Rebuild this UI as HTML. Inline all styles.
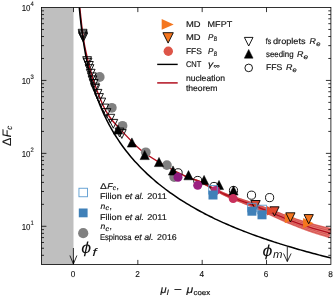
<!DOCTYPE html><html><head><meta charset="utf-8"><style>html,body{margin:0;padding:0;background:#fff;width:336px;height:300px;overflow:hidden;font-family:"Liberation Sans",sans-serif}</style></head><body><svg width="336" height="300" viewBox="0 0 336 300" text-rendering="geometricPrecision" style="position:absolute;left:0;top:0;opacity:0.999;will-change:transform;font-family:'Liberation Sans',sans-serif">
<rect width="336" height="300" fill="#fff"/>
<rect x="41.4" y="7.5" width="32.1" height="257.0" fill="#bfbfbf"/>
<clipPath id="cp"><rect x="41.4" y="7.5" width="289.5" height="257.0"/></clipPath>
<g clip-path="url(#cp)">
<polygon points="183.56,175.51 185.30,176.41 186.90,177.22 188.31,177.91 189.54,178.46 190.62,178.89 191.58,179.24 192.47,179.53 193.31,179.79 194.15,180.04 195.03,180.33 195.98,180.67 197.05,181.10 198.28,181.65 199.71,182.34 201.33,183.17 203.10,184.13 204.99,185.20 206.99,186.34 209.08,187.54 211.22,188.78 213.42,190.04 215.63,191.30 217.86,192.54 220.06,193.74 222.24,194.88 224.36,195.94 226.46,196.93 228.58,197.89 230.71,198.82 232.86,199.72 235.00,200.60 237.12,201.45 239.23,202.29 241.30,203.11 243.34,203.92 245.33,204.71 247.25,205.50 249.12,206.29 250.93,207.06 252.68,207.81 254.38,208.55 256.04,209.27 257.67,209.98 259.27,210.68 260.85,211.38 262.42,212.08 264.00,212.77 265.58,213.48 267.18,214.19 268.81,214.92 270.44,215.65 272.07,216.39 273.70,217.15 275.34,217.91 276.98,218.67 278.63,219.43 280.28,220.20 281.94,220.96 283.60,221.71 285.27,222.45 286.95,223.18 288.62,223.89 290.29,224.59 291.95,225.27 293.60,225.95 295.26,226.61 296.92,227.27 298.58,227.91 300.24,228.55 301.91,229.18 303.58,229.81 305.25,230.42 306.93,231.03 308.63,231.64 310.40,232.26 312.28,232.90 314.24,233.54 316.22,234.19 318.21,234.83 320.16,235.46 322.04,236.05 323.81,236.61 325.43,237.12 326.87,237.57 328.09,237.96 329.06,238.27 331.94,228.13 330.93,227.88 329.66,227.57 328.18,227.21 326.53,226.82 324.74,226.38 322.84,225.92 320.88,225.44 318.89,224.94 316.90,224.44 314.97,223.93 313.11,223.44 311.37,222.96 309.70,222.49 308.02,222.00 306.35,221.51 304.68,221.01 303.02,220.50 301.36,219.99 299.69,219.46 298.03,218.93 296.37,218.39 294.71,217.84 293.04,217.28 291.38,216.71 289.72,216.12 288.06,215.53 286.40,214.91 284.73,214.28 283.05,213.64 281.37,212.99 279.68,212.34 277.99,211.68 276.30,211.02 274.60,210.37 272.89,209.72 271.19,209.08 269.52,208.46 267.87,207.85 266.24,207.25 264.61,206.66 262.99,206.06 261.36,205.47 259.71,204.87 258.03,204.26 256.32,203.65 254.57,203.02 252.76,202.38 250.88,201.71 248.93,201.04 246.92,200.37 244.86,199.70 242.77,199.02 240.65,198.34 238.50,197.65 236.34,196.94 234.18,196.21 232.02,195.47 229.87,194.70 227.74,193.89 225.64,193.06 223.52,192.17 221.33,191.19 219.08,190.14 216.81,189.05 214.53,187.94 212.28,186.82 210.06,185.71 207.90,184.64 205.82,183.62 203.85,182.67 202.00,181.81 200.29,181.06 198.79,180.45 197.48,179.97 196.35,179.60 195.34,179.31 194.42,179.08 193.56,178.88 192.71,178.68 191.82,178.45 190.86,178.18 189.79,177.83 188.55,177.37 187.10,176.78 185.46,176.07 183.67,175.28" fill="#df5a50" fill-opacity="0.8"/>
<polyline points="183.66,175.30 185.44,176.11 187.08,176.83 188.52,177.43 189.76,177.89 190.84,178.26 191.80,178.54 192.68,178.77 193.53,178.98 194.40,179.19 195.31,179.43 196.31,179.72 197.44,180.10 198.73,180.58 200.23,181.20 201.92,181.96 203.76,182.83 205.73,183.79 207.80,184.83 209.95,185.92 212.16,187.04 214.41,188.17 216.68,189.30 218.95,190.41 221.19,191.47 223.38,192.46 225.50,193.38 227.60,194.23 229.73,195.05 231.88,195.84 234.04,196.60 236.20,197.34 238.35,198.07 240.49,198.78 242.61,199.47 244.70,200.16 246.74,200.85 248.75,201.53 250.69,202.22 252.56,202.89 254.36,203.55 256.11,204.19 257.81,204.81 259.48,205.43 261.13,206.04 262.76,206.65 264.37,207.25 265.99,207.86 267.62,208.47 269.26,209.09 270.93,209.73 272.62,210.37 274.32,211.03 276.01,211.70 277.70,212.36 279.39,213.03 281.07,213.70 282.75,214.36 284.42,215.02 286.09,215.66 287.76,216.29 289.42,216.90 291.08,217.50 292.74,218.08 294.41,218.65 296.07,219.22 297.73,219.77 299.39,220.32 301.05,220.86 302.71,221.39 304.38,221.91 306.05,222.42 307.72,222.93 309.39,223.43 311.07,223.92 312.81,224.41 314.67,224.92 316.61,225.44 318.59,225.96 320.59,226.47 322.55,226.97 324.44,227.45 326.23,227.89 327.88,228.30 329.35,228.67 330.61,228.99 331.62,229.25" fill="none" stroke="#c4262c" stroke-opacity="0.65" stroke-width="0.7"/>
<polyline points="183.64,175.35 185.41,176.17 187.04,176.91 188.48,177.53 189.72,178.01 190.79,178.38 191.75,178.68 192.64,178.92 193.49,179.14 194.35,179.36 195.25,179.61 196.24,179.91 197.36,180.30 198.64,180.80 200.12,181.43 201.80,182.21 203.63,183.10 205.58,184.08 207.63,185.13 209.77,186.24 211.97,187.39 214.21,188.55 216.47,189.71 218.73,190.84 220.96,191.93 223.15,192.95 225.27,193.90 227.37,194.77 229.50,195.62 231.64,196.44 233.80,197.23 235.95,198.00 238.10,198.75 240.24,199.49 242.34,200.21 244.42,200.92 246.46,201.63 248.44,202.33 250.37,203.04 252.23,203.73 254.02,204.41 255.76,205.07 257.46,205.71 259.12,206.35 260.75,206.98 262.37,207.60 263.98,208.23 265.59,208.85 267.20,209.49 268.84,210.12 270.50,210.78 272.18,211.44 273.86,212.12 275.54,212.80 277.22,213.49 278.90,214.17 280.57,214.86 282.25,215.54 283.92,216.22 285.59,216.88 287.25,217.53 288.92,218.17 290.58,218.79 292.24,219.40 293.91,219.99 295.57,220.58 297.23,221.16 298.89,221.73 300.55,222.29 302.21,222.84 303.88,223.38 305.55,223.92 307.22,224.44 308.90,224.96 310.58,225.48 312.33,226.00 314.19,226.53 316.13,227.08 318.12,227.62 320.10,228.16 322.06,228.69 323.95,229.19 325.74,229.66 327.38,230.09 328.85,230.47 330.10,230.80 331.10,231.07" fill="none" stroke="#c4262c" stroke-opacity="0.65" stroke-width="0.7"/>
<polyline points="183.60,175.44 185.35,176.30 186.96,177.08 188.39,177.74 189.62,178.26 190.70,178.67 191.66,178.99 192.54,179.26 193.39,179.50 194.24,179.75 195.13,180.02 196.09,180.34 197.18,180.75 198.44,181.28 199.89,181.94 201.54,182.75 203.33,183.68 205.25,184.71 207.27,185.81 209.38,186.97 211.55,188.17 213.76,189.39 216.00,190.60 218.24,191.80 220.45,192.95 222.63,194.04 224.76,195.05 226.85,195.99 228.98,196.90 231.12,197.78 233.27,198.63 235.41,199.46 237.55,200.27 239.67,201.07 241.76,201.84 243.81,202.61 245.82,203.37 247.77,204.12 249.66,204.87 251.49,205.61 253.26,206.33 254.98,207.03 256.66,207.72 258.30,208.40 259.91,209.07 261.51,209.73 263.10,210.40 264.69,211.06 266.29,211.74 267.91,212.42 269.55,213.11 271.20,213.81 272.85,214.53 274.51,215.25 276.16,215.98 277.82,216.71 279.48,217.44 281.14,218.16 282.80,218.89 284.47,219.60 286.14,220.30 287.81,220.99 289.48,221.67 291.14,222.32 292.80,222.97 294.46,223.60 296.12,224.23 297.78,224.85 299.44,225.46 301.10,226.06 302.77,226.65 304.44,227.23 306.11,227.81 307.79,228.38 309.48,228.95 311.24,229.52 313.12,230.12 315.06,230.72 317.05,231.32 319.04,231.92 320.99,232.50 322.87,233.05 324.65,233.57 326.28,234.05 327.73,234.47 328.97,234.83 329.95,235.13" fill="none" stroke="#c4262c" stroke-opacity="0.65" stroke-width="0.7"/>
<polyline points="183.58,175.48 185.32,176.36 186.92,177.16 188.34,177.84 189.57,178.37 190.65,178.80 191.61,179.13 192.50,179.42 193.35,179.67 194.19,179.92 195.07,180.20 196.03,180.53 197.11,180.96 198.34,181.49 199.78,182.17 201.42,183.00 203.20,183.94 205.10,184.99 207.11,186.12 209.20,187.30 211.36,188.52 213.56,189.77 215.79,191.01 218.02,192.23 220.23,193.41 222.40,194.53 224.52,195.56 226.62,196.54 228.75,197.47 230.88,198.38 233.03,199.26 235.17,200.12 237.30,200.96 239.41,201.78 241.49,202.58 243.54,203.37 245.53,204.15 247.47,204.92 249.35,205.69 251.16,206.45 252.92,207.19 254.63,207.91 256.30,208.62 257.93,209.32 259.54,210.01 261.13,210.69 262.71,211.37 264.29,212.06 265.88,212.75 267.49,213.45 269.12,214.16 270.76,214.88 272.40,215.61 274.04,216.35 275.69,217.10 277.34,217.85 278.99,218.60 280.64,219.34 282.30,220.09 283.97,220.82 285.63,221.55 287.31,222.26 288.98,222.96 290.64,223.64 292.31,224.31 293.96,224.96 295.62,225.61 297.28,226.25 298.94,226.88 300.61,227.51 302.27,228.12 303.94,228.73 305.61,229.33 307.29,229.92 308.98,230.51 310.75,231.11 312.63,231.73 314.58,232.36 316.57,232.99 318.56,233.61 320.51,234.22 322.39,234.79 324.16,235.33 325.79,235.83 327.23,236.27 328.46,236.65 329.44,236.95" fill="none" stroke="#c4262c" stroke-opacity="0.65" stroke-width="0.7"/>
<path d="M79.80,7.50C80.23,11.42 81.45,23.92 82.40,31.00C83.35,38.08 83.68,41.83 85.50,50.00C87.32,58.17 90.48,71.00 93.30,80.00C96.12,89.00 99.78,98.00 102.40,104.00C105.02,110.00 106.68,112.50 109.00,116.00C111.32,119.50 111.05,119.37 116.30,125.00C121.55,130.63 132.72,143.22 140.50,149.80C148.28,156.38 155.25,159.97 163.00,164.50C170.75,169.03 180.83,174.13 187.00,177.00C193.17,179.87 193.67,178.78 200.00,181.70C206.33,184.62 216.67,190.78 225.00,194.50C233.33,198.22 242.50,201.08 250.00,204.00C257.50,206.92 263.33,209.28 270.00,212.00C276.67,214.72 283.33,217.75 290.00,220.30C296.67,222.85 303.25,225.15 310.00,227.30C316.75,229.45 327.08,232.22 330.50,233.20" fill="none" stroke="#b2101f" stroke-width="1.4"/>
<path d="M78.33,-4.03C78.43,-2.70 78.75,1.42 78.97,3.93C79.18,6.43 79.40,8.76 79.61,11.00C79.83,13.24 80.04,15.34 80.26,17.37C80.47,19.39 80.68,21.31 80.90,23.16C81.11,25.01 81.33,26.77 81.54,28.47C81.76,30.17 81.97,31.80 82.19,33.38C82.40,34.95 82.61,36.47 82.83,37.94C83.04,39.41 83.26,40.82 83.47,42.19C83.69,43.57 83.90,44.90 84.12,46.19C84.33,47.48 84.55,48.73 84.76,49.95C84.97,51.17 85.19,52.35 85.40,53.51C85.62,54.66 85.83,55.78 86.05,56.88C86.26,57.98 86.48,59.04 86.69,60.09C86.90,61.13 87.12,62.15 87.33,63.14C87.55,64.14 87.76,65.11 87.98,66.06C88.19,67.01 88.41,67.94 88.62,68.86C88.83,69.77 89.05,70.66 89.26,71.54C89.48,72.41 89.69,73.27 89.91,74.11C90.12,74.96 90.34,75.78 90.55,76.59C90.76,77.40 90.98,78.20 91.19,78.98C91.41,79.76 91.62,80.53 91.84,81.29C92.05,82.04 92.27,82.79 92.48,83.52C92.69,84.25 92.91,84.97 93.12,85.67C93.34,86.38 93.55,87.08 93.77,87.76C93.98,88.45 94.20,89.12 94.41,89.79C94.62,90.45 94.84,91.11 95.05,91.75C95.27,92.40 95.48,93.04 95.70,93.66C95.91,94.29 96.13,94.91 96.34,95.52C96.56,96.13 96.77,96.73 96.98,97.33C97.20,97.92 97.41,98.51 97.63,99.09C97.84,99.67 98.06,100.24 98.27,100.81C98.49,101.37 98.70,101.93 98.91,102.48C99.13,103.03 99.34,103.57 99.56,104.11C99.77,104.65 99.99,105.18 100.20,105.71C100.42,106.23 100.63,106.75 100.84,107.27C101.06,107.78 101.27,108.29 101.49,108.79C101.70,109.29 101.92,109.79 102.13,110.28C102.35,110.77 102.56,111.26 102.77,111.74C102.99,112.22 103.20,112.70 103.42,113.17C103.63,113.64 103.85,114.10 104.06,114.57C104.28,115.03 104.49,115.49 104.70,115.94C104.92,116.39 105.13,116.84 105.35,117.28C105.56,117.73 105.78,118.17 105.99,118.60C106.21,119.04 106.42,119.47 106.64,119.90C106.85,120.33 107.06,120.75 107.28,121.17C107.49,121.59 107.71,122.01 107.92,122.42C108.14,122.83 108.35,123.24 108.57,123.64C108.78,124.05 108.99,124.45 109.21,124.85C109.42,125.25 109.64,125.64 109.85,126.03C110.07,126.43 109.85,126.08 110.50,127.20C111.14,128.32 112.64,130.97 113.71,132.75C114.78,134.54 115.86,136.24 116.93,137.90C118.00,139.56 119.07,141.15 120.15,142.70C121.22,144.25 122.29,145.75 123.36,147.20C124.44,148.66 125.51,150.07 126.58,151.44C127.65,152.81 128.73,154.14 129.80,155.44C130.87,156.74 131.94,157.99 133.01,159.23C134.09,160.46 135.16,161.66 136.23,162.83C137.30,164.00 138.38,165.14 139.45,166.26C140.52,167.37 141.59,168.46 142.67,169.53C143.74,170.60 144.81,171.64 145.88,172.66C146.95,173.68 148.03,174.68 149.10,175.66C150.17,176.64 151.24,177.60 152.32,178.54C153.39,179.48 154.46,180.40 155.53,181.31C156.61,182.21 157.68,183.10 158.75,183.97C159.82,184.84 160.90,185.69 161.97,186.53C163.04,187.37 164.11,188.20 165.18,189.01C166.26,189.82 167.33,190.61 168.40,191.40C169.47,192.18 170.55,192.95 171.62,193.70C172.69,194.46 173.76,195.20 174.84,195.94C175.91,196.67 176.98,197.39 178.05,198.10C179.12,198.81 180.20,199.50 181.27,200.19C182.34,200.88 183.41,201.55 184.49,202.22C185.56,202.88 186.63,203.54 187.70,204.18C188.78,204.83 189.85,205.47 190.92,206.09C191.99,206.72 193.07,207.34 194.14,207.95C195.21,208.56 196.28,209.16 197.35,209.75C198.43,210.35 199.50,210.93 200.57,211.51C201.64,212.08 202.72,212.65 203.79,213.21C204.86,213.77 205.93,214.33 207.01,214.87C208.08,215.42 209.15,215.96 210.22,216.49C211.29,217.02 212.37,217.55 213.44,218.06C214.51,218.58 215.58,219.10 216.66,219.60C217.73,220.11 218.80,220.61 219.87,221.10C220.95,221.59 222.02,222.08 223.09,222.56C224.16,223.04 225.24,223.52 226.31,223.99C227.38,224.46 228.45,224.93 229.52,225.38C230.60,225.84 231.67,226.30 232.74,226.75C233.81,227.20 234.89,227.64 235.96,228.08C237.03,228.52 238.10,228.95 239.18,229.38C240.25,229.81 241.32,230.24 242.39,230.66C243.46,231.08 244.54,231.50 245.61,231.91C246.68,232.32 247.75,232.73 248.83,233.13C249.90,233.53 250.97,233.93 252.04,234.33C253.12,234.72 254.19,235.12 255.26,235.50C256.33,235.89 257.41,236.27 258.48,236.65C259.55,237.03 260.62,237.41 261.69,237.78C262.77,238.16 263.84,238.52 264.91,238.89C265.98,239.26 267.06,239.62 268.13,239.98C269.20,240.34 270.27,240.69 271.35,241.05C272.42,241.40 273.49,241.75 274.56,242.09C275.63,242.44 276.71,242.78 277.78,243.12C278.85,243.47 279.92,243.80 281.00,244.14C282.07,244.47 283.14,244.80 284.21,245.13C285.29,245.46 286.36,245.79 287.43,246.11C288.50,246.44 289.58,246.76 290.65,247.08C291.72,247.39 292.79,247.71 293.86,248.02C294.94,248.34 296.01,248.65 297.08,248.96C298.15,249.27 299.23,249.57 300.30,249.88C301.37,250.18 302.44,250.48 303.52,250.78C304.59,251.08 305.66,251.38 306.73,251.67C307.80,251.97 308.88,252.26 309.95,252.55C311.02,252.84 312.09,253.13 313.17,253.42C314.24,253.70 315.31,253.99 316.38,254.27C317.46,254.55 318.53,254.83 319.60,255.11C320.67,255.39 321.75,255.67 322.82,255.94C323.89,256.22 324.96,256.49 326.03,256.76C327.11,257.03 328.18,257.30 329.25,257.57C330.32,257.84 331.93,258.23 332.47,258.37" fill="none" stroke="#000" stroke-width="1.5"/>
<circle cx="99.70" cy="77.00" r="4.9" fill="#808080" stroke="none" stroke-width="0"/>
<circle cx="111.80" cy="107.80" r="4.9" fill="#808080" stroke="none" stroke-width="0"/>
<circle cx="122.50" cy="125.80" r="4.9" fill="#808080" stroke="none" stroke-width="0"/>
<circle cx="145.80" cy="152.30" r="4.9" fill="#808080" stroke="none" stroke-width="0"/>
<circle cx="166.90" cy="165.10" r="4.9" fill="#808080" stroke="none" stroke-width="0"/>
<circle cx="174.20" cy="177.10" r="4.9" fill="#808080" stroke="none" stroke-width="0"/>
<path d="M78.20,29.30L87.00,29.30L82.60,38.10Z" fill="none" stroke="#000" stroke-width="0.9" stroke-linejoin="miter"/>
<path d="M78.40,30.80L87.20,30.80L82.80,39.60Z" fill="none" stroke="#000" stroke-width="0.9" stroke-linejoin="miter"/>
<path d="M78.60,32.10L87.40,32.10L83.00,40.90Z" fill="none" stroke="#000" stroke-width="0.9" stroke-linejoin="miter"/>
<path d="M78.80,33.10L87.60,33.10L83.20,41.90Z" fill="none" stroke="#000" stroke-width="0.9" stroke-linejoin="miter"/>
<path d="M82.70,56.70L91.50,56.70L87.10,65.50Z" fill="none" stroke="#000" stroke-width="0.9" stroke-linejoin="miter"/>
<path d="M83.10,58.30L91.90,58.30L87.50,67.10Z" fill="none" stroke="#000" stroke-width="0.9" stroke-linejoin="miter"/>
<path d="M84.50,61.50L93.30,61.50L88.90,70.30Z" fill="none" stroke="#000" stroke-width="0.9" stroke-linejoin="miter"/>
<path d="M85.10,64.70L93.90,64.70L89.50,73.50Z" fill="none" stroke="#000" stroke-width="0.9" stroke-linejoin="miter"/>
<path d="M86.30,69.30L95.10,69.30L90.70,78.10Z" fill="none" stroke="#000" stroke-width="0.9" stroke-linejoin="miter"/>
<path d="M87.50,72.90L96.30,72.90L91.90,81.70Z" fill="none" stroke="#000" stroke-width="0.9" stroke-linejoin="miter"/>
<path d="M88.10,75.90L96.90,75.90L92.50,84.70Z" fill="none" stroke="#000" stroke-width="0.9" stroke-linejoin="miter"/>
<path d="M89.30,79.50L98.10,79.50L93.70,88.30Z" fill="none" stroke="#000" stroke-width="0.9" stroke-linejoin="miter"/>
<path d="M90.50,83.10L99.30,83.10L94.90,91.90Z" fill="none" stroke="#000" stroke-width="0.9" stroke-linejoin="miter"/>
<path d="M90.90,84.60L99.70,84.60L95.30,93.40Z" fill="none" stroke="#000" stroke-width="0.9" stroke-linejoin="miter"/>
<path d="M93.10,89.40L101.90,89.40L97.50,98.20Z" fill="none" stroke="#000" stroke-width="0.9" stroke-linejoin="miter"/>
<path d="M94.60,93.60L103.40,93.60L99.00,102.40Z" fill="none" stroke="#000" stroke-width="0.9" stroke-linejoin="miter"/>
<path d="M96.90,98.10L105.70,98.10L101.30,106.90Z" fill="none" stroke="#000" stroke-width="0.9" stroke-linejoin="miter"/>
<path d="M99.90,104.10L108.70,104.10L104.30,112.90Z" fill="none" stroke="#000" stroke-width="0.9" stroke-linejoin="miter"/>
<path d="M102.10,108.60L110.90,108.60L106.50,117.40Z" fill="none" stroke="#000" stroke-width="0.9" stroke-linejoin="miter"/>
<path d="M105.90,114.30L114.70,114.30L110.30,123.10Z" fill="none" stroke="#000" stroke-width="0.9" stroke-linejoin="miter"/>
<path d="M108.90,119.40L117.70,119.40L113.30,128.20Z" fill="none" stroke="#000" stroke-width="0.9" stroke-linejoin="miter"/>
<path d="M115.10,128.10L123.90,128.10L119.50,136.90Z" fill="none" stroke="#000" stroke-width="0.9" stroke-linejoin="miter"/>
<path d="M117.40,129.60L126.20,129.60L121.80,138.40Z" fill="none" stroke="#000" stroke-width="0.9" stroke-linejoin="miter"/>
<path d="M113.40,134.10L122.60,134.10L118.00,124.90Z" fill="#000" stroke="#000" stroke-width="0.5" stroke-linejoin="miter"/>
<path d="M127.30,147.10L136.50,147.10L131.90,137.90Z" fill="#000" stroke="#000" stroke-width="0.5" stroke-linejoin="miter"/>
<path d="M140.10,159.60L149.30,159.60L144.70,150.40Z" fill="#000" stroke="#000" stroke-width="0.5" stroke-linejoin="miter"/>
<path d="M154.40,166.60L163.60,166.60L159.00,157.40Z" fill="#000" stroke="#000" stroke-width="0.5" stroke-linejoin="miter"/>
<path d="M168.40,175.10L177.60,175.10L173.00,165.90Z" fill="#000" stroke="#000" stroke-width="0.5" stroke-linejoin="miter"/>
<path d="M183.90,179.80L193.10,179.80L188.50,170.60Z" fill="#000" stroke="#000" stroke-width="0.5" stroke-linejoin="miter"/>
<path d="M199.50,184.60L208.70,184.60L204.10,175.40Z" fill="#000" stroke="#000" stroke-width="0.5" stroke-linejoin="miter"/>
<path d="M214.40,189.60L223.60,189.60L219.00,180.40Z" fill="#000" stroke="#000" stroke-width="0.5" stroke-linejoin="miter"/>
<path d="M228.90,195.10L238.10,195.10L233.50,185.90Z" fill="#000" stroke="#000" stroke-width="0.5" stroke-linejoin="miter"/>
<circle cx="178.10" cy="172.80" r="4.1" fill="none" stroke="#000" stroke-width="0.9"/>
<circle cx="197.70" cy="180.50" r="4.1" fill="none" stroke="#000" stroke-width="0.9"/>
<circle cx="214.00" cy="186.50" r="4.1" fill="none" stroke="#000" stroke-width="0.9"/>
<circle cx="233.50" cy="190.50" r="4.1" fill="none" stroke="#000" stroke-width="0.9"/>
<circle cx="251.50" cy="195.20" r="4.1" fill="none" stroke="#000" stroke-width="0.9"/>
<circle cx="269.60" cy="197.60" r="4.1" fill="none" stroke="#000" stroke-width="0.9"/>
<circle cx="178.00" cy="177.30" r="4.5" fill="#8e1b7e" stroke="none" stroke-width="0"/>
<circle cx="197.70" cy="185.30" r="4.5" fill="#9c2080" stroke="none" stroke-width="0"/>
<circle cx="215.60" cy="190.50" r="4.5" fill="#b72a72" stroke="none" stroke-width="0"/>
<circle cx="233.20" cy="198.60" r="4.5" fill="#c8305c" stroke="none" stroke-width="0"/>
<path d="M250.80,200.50L260.20,200.50L255.50,209.90Z" fill="#d9452f" stroke="#000" stroke-width="0.9" stroke-linejoin="miter"/>
<rect x="208.70" y="185.50" width="8.6" height="8.6" fill="none" stroke="#5b9bd0" stroke-width="0.9"/>
<rect x="247.70" y="203.30" width="8.6" height="8.6" fill="none" stroke="#5b9bd0" stroke-width="0.9"/>
<rect x="257.80" y="205.20" width="8.6" height="8.6" fill="none" stroke="#5b9bd0" stroke-width="0.9"/>
<rect x="208.50" y="190.50" width="9" height="9" fill="#3f80b8" stroke="none" stroke-width="0"/>
<rect x="247.40" y="206.70" width="9" height="9" fill="#3f80b8" stroke="none" stroke-width="0"/>
<rect x="257.50" y="210.30" width="9" height="9" fill="#3f80b8" stroke="none" stroke-width="0"/>
<path d="M269.90,206.80L279.10,206.80L274.50,216.00Z" fill="#e2492f" stroke="#000" stroke-width="0.9" stroke-linejoin="miter"/>
<path d="M266.90,206.10L266.90,215.50L276.30,210.80Z" fill="#e2492f" stroke="none" stroke-width="0"/>
<path d="M284.80,213.30L284.80,223.30L294.80,218.30Z" fill="#f4761f" stroke="none" stroke-width="0"/>
<path d="M285.80,212.80L295.00,212.80L290.40,222.00Z" fill="#f4761f" stroke="#000" stroke-width="0.9" stroke-linejoin="miter"/>
<path d="M303.05,218.05L303.05,228.55L313.55,223.30Z" fill="#f4761f" stroke="none" stroke-width="0"/>
<path d="M304.10,214.60L313.30,214.60L308.70,223.80Z" fill="#f4761f" stroke="#000" stroke-width="0.9" stroke-linejoin="miter"/>
</g>
<rect x="41.4" y="7.5" width="289.5" height="257.0" fill="none" stroke="#000" stroke-width="0.8"/>
<path d="M73.50,264.5v-4.6M73.50,7.5v4.6M137.84,264.5v-4.6M137.84,7.5v4.6M202.18,264.5v-4.6M202.18,7.5v4.6M266.52,264.5v-4.6M266.52,7.5v4.6M41.4,255.31h2.6M330.9,255.31h-2.6M41.4,248.24h2.6M330.9,248.24h-2.6M41.4,242.47h2.6M330.9,242.47h-2.6M41.4,237.59h2.6M330.9,237.59h-2.6M41.4,233.36h2.6M330.9,233.36h-2.6M41.4,229.63h2.6M330.9,229.63h-2.6M41.4,226.29h5M330.9,226.29h-5M41.4,204.34h2.6M330.9,204.34h-2.6M41.4,191.49h2.6M330.9,191.49h-2.6M41.4,182.38h2.6M330.9,182.38h-2.6M41.4,175.31h2.6M330.9,175.31h-2.6M41.4,169.54h2.6M330.9,169.54h-2.6M41.4,164.66h2.6M330.9,164.66h-2.6M41.4,160.43h2.6M330.9,160.43h-2.6M41.4,156.70h2.6M330.9,156.70h-2.6M41.4,153.36h5M330.9,153.36h-5M41.4,131.41h2.6M330.9,131.41h-2.6M41.4,118.56h2.6M330.9,118.56h-2.6M41.4,109.45h2.6M330.9,109.45h-2.6M41.4,102.38h2.6M330.9,102.38h-2.6M41.4,96.61h2.6M330.9,96.61h-2.6M41.4,91.73h2.6M330.9,91.73h-2.6M41.4,87.50h2.6M330.9,87.50h-2.6M41.4,83.77h2.6M330.9,83.77h-2.6M41.4,80.43h5M330.9,80.43h-5M41.4,58.48h2.6M330.9,58.48h-2.6M41.4,45.63h2.6M330.9,45.63h-2.6M41.4,36.52h2.6M330.9,36.52h-2.6M41.4,29.45h2.6M330.9,29.45h-2.6M41.4,23.68h2.6M330.9,23.68h-2.6M41.4,18.80h2.6M330.9,18.80h-2.6M41.4,14.57h2.6M330.9,14.57h-2.6M41.4,10.84h2.6M330.9,10.84h-2.6" stroke="#000" stroke-width="0.8" fill="none"/>
<text x="70.8" y="277.3" font-size="8.6" textLength="4.6" lengthAdjust="spacingAndGlyphs" fill="#111" stroke="#111" stroke-width="0.1">0</text>
<text x="135.14" y="277.3" font-size="8.6" textLength="4.6" lengthAdjust="spacingAndGlyphs" fill="#111" stroke="#111" stroke-width="0.1">2</text>
<text x="199.48" y="277.3" font-size="8.6" textLength="4.6" lengthAdjust="spacingAndGlyphs" fill="#111" stroke="#111" stroke-width="0.1">4</text>
<text x="263.82" y="277.3" font-size="8.6" textLength="4.6" lengthAdjust="spacingAndGlyphs" fill="#111" stroke="#111" stroke-width="0.1">6</text>
<text x="328.16" y="277.3" font-size="8.6" textLength="4.6" lengthAdjust="spacingAndGlyphs" fill="#111" stroke="#111" stroke-width="0.1">8</text>
<text x="21.7" y="229.59" font-size="8.6" textLength="8.8" lengthAdjust="spacingAndGlyphs" fill="#111" stroke="#111" stroke-width="0.1">10</text>
<text x="30.6" y="225.09" font-size="6.5" textLength="3.3" lengthAdjust="spacingAndGlyphs" fill="#111" stroke="#111" stroke-width="0.1">1</text>
<text x="21.7" y="156.66" font-size="8.6" textLength="8.8" lengthAdjust="spacingAndGlyphs" fill="#111" stroke="#111" stroke-width="0.1">10</text>
<text x="30.6" y="152.16" font-size="6.5" textLength="3.3" lengthAdjust="spacingAndGlyphs" fill="#111" stroke="#111" stroke-width="0.1">2</text>
<text x="21.7" y="83.73" font-size="8.6" textLength="8.8" lengthAdjust="spacingAndGlyphs" fill="#111" stroke="#111" stroke-width="0.1">10</text>
<text x="30.6" y="79.23" font-size="6.5" textLength="3.3" lengthAdjust="spacingAndGlyphs" fill="#111" stroke="#111" stroke-width="0.1">3</text>
<text x="21.7" y="10.8" font-size="8.6" textLength="8.8" lengthAdjust="spacingAndGlyphs" fill="#111" stroke="#111" stroke-width="0.1">10</text>
<text x="30.6" y="6.3" font-size="6.5" textLength="3.3" lengthAdjust="spacingAndGlyphs" fill="#111" stroke="#111" stroke-width="0.1">4</text>
<text x="160.4" y="292.8" font-size="10.6" font-style="italic" textLength="6.1" lengthAdjust="spacingAndGlyphs" fill="#111" stroke="#111" stroke-width="0.16">μ</text><text x="166.7" y="294.7" font-size="7.4" font-style="italic" textLength="1.9" lengthAdjust="spacingAndGlyphs" fill="#111" stroke="#111" stroke-width="0.16">l</text><text x="174" y="292.8" font-size="10.6" textLength="7.8" lengthAdjust="spacingAndGlyphs" fill="#111" stroke="#111" stroke-width="0.16">−</text><text x="186.6" y="292.8" font-size="10.6" font-style="italic" textLength="6.7" lengthAdjust="spacingAndGlyphs" fill="#111" stroke="#111" stroke-width="0.16">μ</text><text x="193.5" y="294.7" font-size="7.4" textLength="16.7" lengthAdjust="spacingAndGlyphs" fill="#111" stroke="#111" stroke-width="0.16">coex</text>
<g transform="translate(10.5,145.9) rotate(-90)"><text x="0" y="0" font-size="12.3" textLength="8.4" lengthAdjust="spacingAndGlyphs" fill="#111" stroke="#111" stroke-width="0.05">Δ</text><text x="8.6" y="0" font-size="12.3" font-style="italic" textLength="7.4" lengthAdjust="spacingAndGlyphs" fill="#111" stroke="#111" stroke-width="0.05">F</text><text x="16.2" y="1.8" font-size="8" font-style="italic" textLength="4.0" lengthAdjust="spacingAndGlyphs" fill="#111" stroke="#111" stroke-width="0.1">c</text></g>
<path d="M161.7,19.1L161.7,29.7L173.7,24.4Z" fill="#f4761f"/>
<path d="M162.90,32.70L173.30,32.70L168.10,43.10Z" fill="#f4761f" stroke="#000" stroke-width="0.9" stroke-linejoin="miter"/>
<circle cx="168.30" cy="51.20" r="4.7" fill="#dd5548" stroke="none" stroke-width="0"/>
<path d="M157.2,64.4h20.5" stroke="#000" stroke-width="1.4"/>
<path d="M157.2,82.9h20.5" stroke="#b2101f" stroke-width="1.5"/>
<text x="185.9" y="27.2" font-size="8.4" textLength="14.6" lengthAdjust="spacingAndGlyphs" fill="#111" stroke="#111" stroke-width="0.16">MD</text><text x="207.6" y="27.2" font-size="8.4" textLength="24.6" lengthAdjust="spacingAndGlyphs" fill="#111" stroke="#111" stroke-width="0.16">MFPT</text>
<text x="185.9" y="39.8" font-size="8.4" textLength="14.6" lengthAdjust="spacingAndGlyphs" fill="#111" stroke="#111" stroke-width="0.16">MD</text><text x="208.1" y="39.8" font-size="8.4" font-style="italic" textLength="5.4" lengthAdjust="spacingAndGlyphs" fill="#111" stroke="#111" stroke-width="0.16">P</text><text x="213.7" y="41.4" font-size="6.4" font-style="italic" textLength="3.3" lengthAdjust="spacingAndGlyphs" fill="#111" stroke="#111" stroke-width="0.16">B</text>
<text x="185.9" y="54" font-size="8.4" textLength="15.9" lengthAdjust="spacingAndGlyphs" fill="#111" stroke="#111" stroke-width="0.16">FFS</text><text x="208.1" y="54" font-size="8.4" font-style="italic" textLength="5.4" lengthAdjust="spacingAndGlyphs" fill="#111" stroke="#111" stroke-width="0.16">P</text><text x="213.7" y="55.6" font-size="6.4" font-style="italic" textLength="3.3" lengthAdjust="spacingAndGlyphs" fill="#111" stroke="#111" stroke-width="0.16">B</text>
<text x="185.9" y="66.7" font-size="8.4" textLength="15.5" lengthAdjust="spacingAndGlyphs" fill="#111" stroke="#111" stroke-width="0.16">CNT</text><text x="208" y="66.7" font-size="8.4" font-style="italic" textLength="5.2" lengthAdjust="spacingAndGlyphs" fill="#111" stroke="#111" stroke-width="0.16">γ</text><text x="213.6" y="68.3" font-size="6.2" textLength="6.3" lengthAdjust="spacingAndGlyphs" fill="#111" stroke="#111" stroke-width="0.16">∞</text>
<text x="185.9" y="80.5" font-size="8.4" textLength="39.1" lengthAdjust="spacingAndGlyphs" fill="#111" stroke="#111" stroke-width="0.16">nucleation</text>
<text x="185.9" y="91" font-size="8.4" textLength="31.6" lengthAdjust="spacingAndGlyphs" fill="#111" stroke="#111" stroke-width="0.16">theorem</text>
<path d="M244.40,37.40L253.00,37.40L248.70,46.00Z" fill="none" stroke="#000" stroke-width="0.9" stroke-linejoin="miter"/>
<path d="M244.35,58.15L253.05,58.15L248.70,49.45Z" fill="#000" stroke="#000" stroke-width="0.5" stroke-linejoin="miter"/>
<circle cx="248.70" cy="67.90" r="3.8" fill="none" stroke="#000" stroke-width="0.9"/>
<text x="265.7" y="43.9" font-size="8.4" textLength="5.5" lengthAdjust="spacingAndGlyphs" fill="#111" stroke="#111" stroke-width="0.16">fs</text><text x="273" y="43.9" font-size="8.4" textLength="32.6" lengthAdjust="spacingAndGlyphs" fill="#111" stroke="#111" stroke-width="0.16">droplets</text><text x="309.6" y="43.9" font-size="8.4" font-style="italic" textLength="6.4" lengthAdjust="spacingAndGlyphs" fill="#111" stroke="#111" stroke-width="0.16">R</text><text x="316.2" y="45.5" font-size="6.4" font-style="italic" textLength="4.2" lengthAdjust="spacingAndGlyphs" fill="#111" stroke="#111" stroke-width="0.16">e</text>
<text x="266" y="57.3" font-size="8.4" textLength="27.6" lengthAdjust="spacingAndGlyphs" fill="#111" stroke="#111" stroke-width="0.16">seeding</text><text x="297" y="57.3" font-size="8.4" font-style="italic" textLength="6.4" lengthAdjust="spacingAndGlyphs" fill="#111" stroke="#111" stroke-width="0.16">R</text><text x="303.59999999999997" y="58.9" font-size="6.4" font-style="italic" textLength="4.7" lengthAdjust="spacingAndGlyphs" fill="#111" stroke="#111" stroke-width="0.16">e</text>
<text x="266" y="70.2" font-size="8.4" textLength="16.3" lengthAdjust="spacingAndGlyphs" fill="#111" stroke="#111" stroke-width="0.16">FFS</text><text x="286" y="70.2" font-size="8.4" font-style="italic" textLength="6.4" lengthAdjust="spacingAndGlyphs" fill="#111" stroke="#111" stroke-width="0.16">R</text><text x="292.59999999999997" y="71.8" font-size="6.4" font-style="italic" textLength="4.2" lengthAdjust="spacingAndGlyphs" fill="#111" stroke="#111" stroke-width="0.16">e</text>
<rect x="78.95" y="188.25" width="8.5" height="8.5" fill="#fff" stroke="#5b9bd0" stroke-width="0.9"/>
<rect x="78.80" y="208.50" width="8.8" height="8.8" fill="#3f80b8" stroke="none" stroke-width="0"/>
<circle cx="83.20" cy="233.20" r="5.1" fill="#808080" stroke="none" stroke-width="0"/>
<text x="99.9" y="188.7" font-size="8.4" textLength="6.9" lengthAdjust="spacingAndGlyphs" fill="#111" stroke="#111" stroke-width="0.16">Δ</text><text x="107.2" y="188.7" font-size="8.4" font-style="italic" textLength="5.4" lengthAdjust="spacingAndGlyphs" fill="#111" stroke="#111" stroke-width="0.16">F</text><text x="112.8" y="190.29999999999998" font-size="6.4" font-style="italic" textLength="3.2" lengthAdjust="spacingAndGlyphs" fill="#111" stroke="#111" stroke-width="0.16">c</text><text x="116.4" y="188.7" font-size="8.4" fill="#111" stroke="#111" stroke-width="0.16">,</text>
<text x="99.9" y="199.4" font-size="8.4" textLength="21.9" lengthAdjust="spacingAndGlyphs" fill="#111" stroke="#111" stroke-width="0.16">Filion</text><text x="125" y="199.4" font-size="8.4" font-style="italic" textLength="18.8" lengthAdjust="spacingAndGlyphs" fill="#111" stroke="#111" stroke-width="0.16">et al.</text><text x="147.2" y="199.4" font-size="8.4" textLength="19.6" lengthAdjust="spacingAndGlyphs" fill="#111" stroke="#111" stroke-width="0.16">2011</text>
<text x="100.4" y="208.8" font-size="8.4" font-style="italic" textLength="4.8" lengthAdjust="spacingAndGlyphs" fill="#111" stroke="#111" stroke-width="0.16">n</text><text x="105.4" y="210.4" font-size="6.4" font-style="italic" textLength="3.6" lengthAdjust="spacingAndGlyphs" fill="#111" stroke="#111" stroke-width="0.16">c</text><text x="109.4" y="208.8" font-size="8.4" fill="#111" stroke="#111" stroke-width="0.16">,</text>
<text x="99.9" y="220" font-size="8.4" textLength="21.9" lengthAdjust="spacingAndGlyphs" fill="#111" stroke="#111" stroke-width="0.16">Filion</text><text x="125" y="220" font-size="8.4" font-style="italic" textLength="18.8" lengthAdjust="spacingAndGlyphs" fill="#111" stroke="#111" stroke-width="0.16">et al.</text><text x="147.2" y="220" font-size="8.4" textLength="19.6" lengthAdjust="spacingAndGlyphs" fill="#111" stroke="#111" stroke-width="0.16">2011</text>
<text x="100.4" y="228.9" font-size="8.4" font-style="italic" textLength="4.8" lengthAdjust="spacingAndGlyphs" fill="#111" stroke="#111" stroke-width="0.16">n</text><text x="105.4" y="230.5" font-size="6.4" font-style="italic" textLength="3.6" lengthAdjust="spacingAndGlyphs" fill="#111" stroke="#111" stroke-width="0.16">c</text><text x="109.4" y="228.9" font-size="8.4" fill="#111" stroke="#111" stroke-width="0.16">,</text>
<text x="99.9" y="239.8" font-size="8.4" textLength="31.5" lengthAdjust="spacingAndGlyphs" fill="#111" stroke="#111" stroke-width="0.16">Espinosa</text><text x="134.4" y="239.8" font-size="8.4" font-style="italic" textLength="19.0" lengthAdjust="spacingAndGlyphs" fill="#111" stroke="#111" stroke-width="0.16">et al.</text><text x="157.1" y="239.8" font-size="8.4" textLength="19.6" lengthAdjust="spacingAndGlyphs" fill="#111" stroke="#111" stroke-width="0.16">2016</text>
<text x="81.3" y="253.3" font-size="16" font-style="italic" textLength="9.9" lengthAdjust="spacingAndGlyphs" fill="#111" stroke="#111" stroke-width="0">ϕ</text><text x="92.2" y="255.5" font-size="11" font-style="italic" textLength="4.4" lengthAdjust="spacingAndGlyphs" fill="#111" stroke="#111" stroke-width="0">f</text>
<text x="262.6" y="255.5" font-size="16" font-style="italic" textLength="9.9" lengthAdjust="spacingAndGlyphs" fill="#111" stroke="#111" stroke-width="0">ϕ</text><text x="272.9" y="258" font-size="11" font-style="italic" textLength="9.5" lengthAdjust="spacingAndGlyphs" fill="#111" stroke="#111" stroke-width="0">m</text>
<path d="M73.4,248V264M69.9,255.5L73.4,264L76.9,255.5" fill="none" stroke="#000" stroke-width="0.8"/>
<path d="M287.3,247V261.5M283.5,253.5L287.3,261.5L291.1,253.5" fill="none" stroke="#000" stroke-width="0.8"/>
</svg></body></html>
